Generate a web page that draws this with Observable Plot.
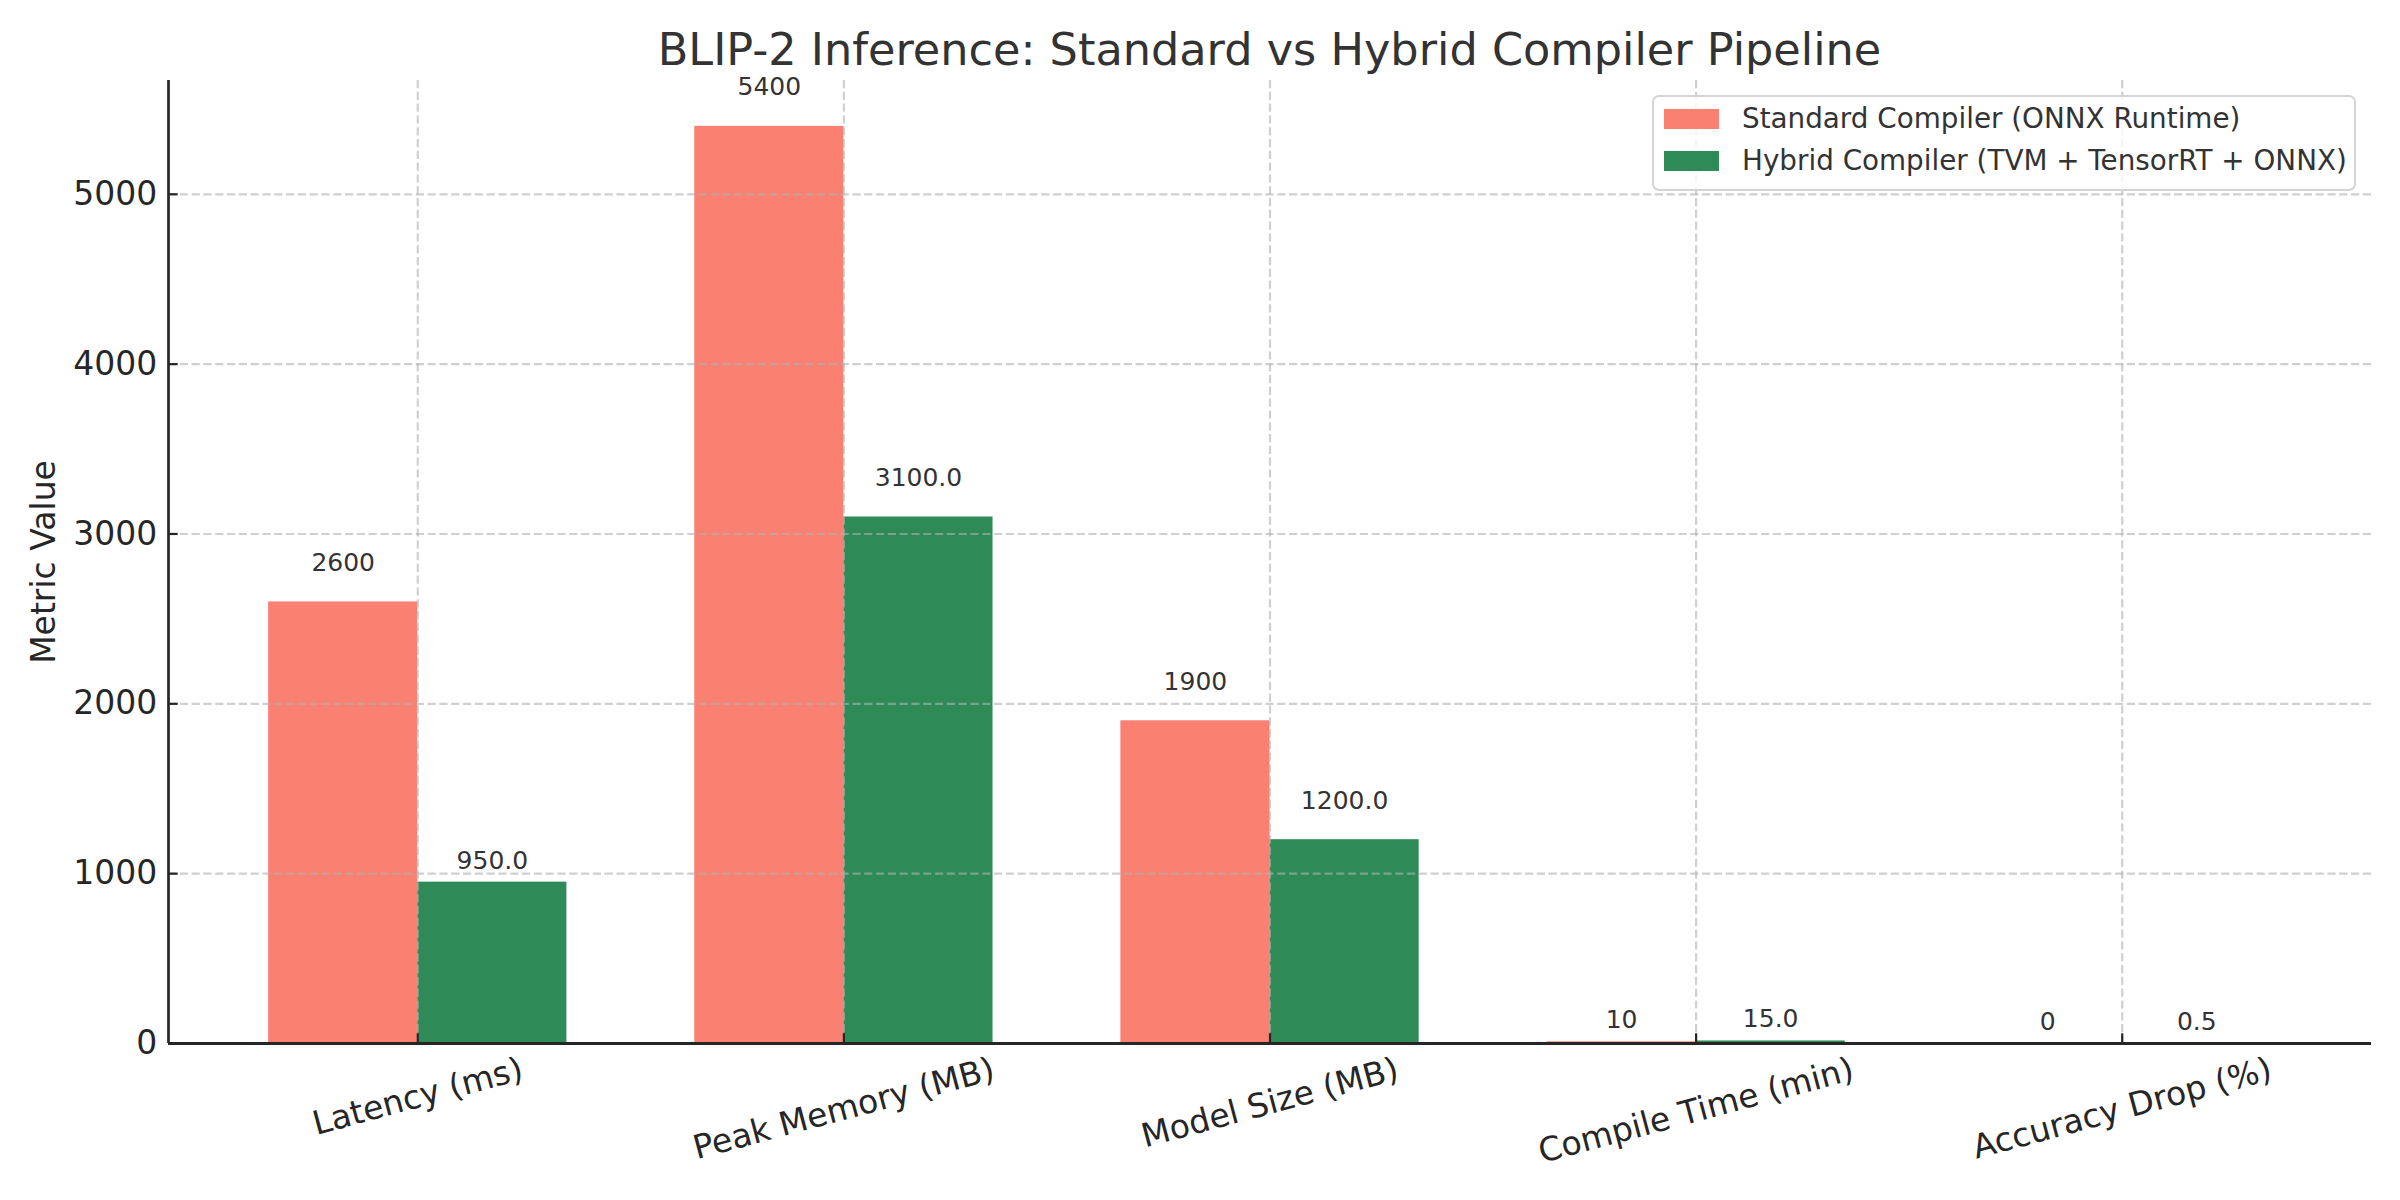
<!DOCTYPE html>
<html>
<head>
<meta charset="utf-8">
<script src="https://cdn.jsdelivr.net/npm/d3@7"></script>
<script src="https://cdn.jsdelivr.net/npm/@observablehq/plot@0.6"></script>
<style>
  html, body { margin: 0; padding: 0; background: #fff; }
  #wrap { position: relative; width: 2400px; height: 1200px; overflow: hidden; background: #fff; font-family: "DejaVu Sans", sans-serif; }
  #title { position: relative; height: 60px; }
  #title span { position: absolute; left: 168px; width: 2203px; top: 28px; text-align: center; font-size: 44.6px; line-height: 44px; color: #333; white-space: nowrap; }
  #legend { position: absolute; left: 1652px; top: 95px; width: 704px; height: 96px; box-sizing: border-box; border: 2.2px solid #d4d4d4; border-radius: 7px; background: rgba(255,255,255,0.8); }
  .lg-sw { position: absolute; left: 10px; width: 55px; height: 19.5px; }
  .lg-tx { position: absolute; left: 88px; font-size: 27.8px; line-height: 32px; color: #333; white-space: nowrap; }
</style>
</head>
<body>
<div id="wrap">
  <div id="title"><span>BLIP-2 Inference: Standard vs Hybrid Compiler Pipeline</span></div>
  <div id="chart"></div>
  <div id="legend"></div>
</div>
<script>
// ---- data ----
const categories = ["Latency (ms)", "Peak Memory (MB)", "Model Size (MB)", "Compile Time (min)", "Accuracy Drop (%)"];
const standardValues = [2600, 5400, 1900, 10, 0];
const hybridValues = [950, 3100, 1200, 15, 0.5];
const seriesNames = ["Standard Compiler (ONNX Runtime)", "Hybrid Compiler (TVM + TensorRT + ONNX)"];
const seriesColors = ["#FA8072", "#2E8B57"];
const yTicks = [0, 1000, 2000, 3000, 4000, 5000];

// ---- layout constants ----
const barWidth = 0.35;
const xDomain = [-0.585, 4.585];
const yDomain = [0, 5670];
const tickFont = 33;
const ink = "#262626";
const gridStyle = {stroke: "#b0b0b0", strokeOpacity: 0.6, strokeWidth: 2.2, strokeDasharray: "8.2,3.6"};

const rows = categories.flatMap((c, i) => [
  {i, category: c, series: seriesNames[0], side: -1, value: standardValues[i], label: String(standardValues[i])},
  {i, category: c, series: seriesNames[1], side: 1, value: hybridValues[i], label: hybridValues[i].toFixed(1)}
]);

// measure category labels to place the rotated text like matplotlib (top of bbox just below axis)
const ctx = document.createElement("canvas").getContext("2d");
ctx.font = `${tickFont}px "DejaVu Sans"`;
const rad = 15 * Math.PI / 180;
const catMarks = categories.map((c, i) => {
  const w = ctx.measureText(c).width;
  const h = 0.93 * tickFont;
  const dy = 10.5 + (w * Math.sin(rad) + h * Math.cos(rad)) / 2;
  return Plot.text([c], {
    x: () => i, text: d => d, frameAnchor: "bottom", dy, rotate: -15,
    textAnchor: "middle", lineAnchor: "middle", fontSize: tickFont, fill: ink
  });
});

const chart = Plot.plot({
  width: 2400,
  height: 1140,
  marginTop: 20,
  marginBottom: 157,
  marginLeft: 168,
  marginRight: 29,
  style: {fontFamily: "DejaVu Sans, sans-serif", background: "transparent"},
  x: {type: "linear", domain: xDomain, axis: null, label: null},
  y: {domain: yDomain, axis: null, label: null},
  color: {domain: seriesNames, range: seriesColors},
  marks: [
    Plot.rectY(rows, {
      x1: d => d.i + Math.min(0, d.side) * barWidth,
      x2: d => d.i + Math.max(0, d.side) * barWidth,
      y1: 0, y2: "value", fill: "series"
    }),
    Plot.gridY(yTicks, gridStyle),
    Plot.gridX(d3.range(categories.length), gridStyle),
    Plot.text(rows.filter(d => d.value >= 1000), {
      x: d => d.i + d.side * barWidth / 2, y: "value", text: "label",
      dy: -39, lineAnchor: "middle", fontSize: 25, fill: "#333"
    }),
    Plot.text(rows.filter(d => d.value < 1000), {
      x: d => d.i + d.side * barWidth / 2, y: "value", text: "label",
      dy: -21.5, lineAnchor: "middle", fontSize: 25, fill: "#333"
    }),
    Plot.axisY(yTicks, {
      tickSize: -9.7, tickPadding: 21, fontSize: tickFont, fill: ink, stroke: ink,
      strokeWidth: 2.2, tickFormat: d => String(d), label: null
    }),
    Plot.axisX(d3.range(categories.length), {
      tickSize: -9.7, stroke: ink, strokeWidth: 2.2, tickFormat: () => "", label: null
    }),
    ...catMarks,
    Plot.text(["Metric Value"], {
      text: d => d, frameAnchor: "left", dx: -124, rotate: -90,
      textAnchor: "middle", fontSize: 33, fill: ink, lineAnchor: "middle"
    }),
    Plot.ruleY([0], {stroke: ink, strokeWidth: 3.2}),
    Plot.ruleX([xDomain[0]], {stroke: ink, strokeWidth: 2.7})
  ]
});
document.getElementById("chart").appendChild(chart);

// legend built from the series arrays
const legend = document.getElementById("legend");
const rowCenters = [22, 64];
seriesNames.forEach((name, k) => {
  const sw = document.createElement("div");
  sw.className = "lg-sw";
  sw.style.background = seriesColors[k];
  sw.style.top = (rowCenters[k] - 9.75) + "px";
  legend.appendChild(sw);
  const tx = document.createElement("div");
  tx.className = "lg-tx";
  tx.textContent = name;
  tx.style.top = (rowCenters[k] - 16) + "px";
  legend.appendChild(tx);
});
</script>
</body>
</html>
